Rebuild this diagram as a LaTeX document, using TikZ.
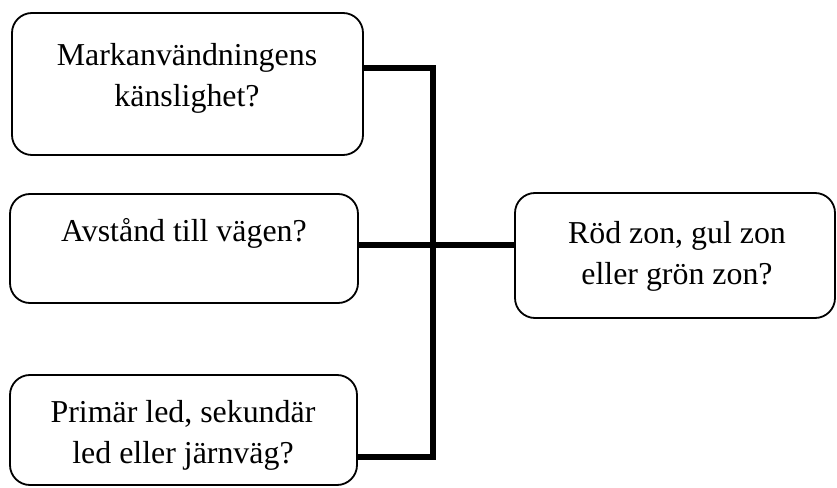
\documentclass[tikz,border=0pt]{standalone}
\usepackage{fontspec}
\setmainfont{Liberation Serif}
\begin{document}
\begin{tikzpicture}[x=1bp,y=-1bp,
  box/.style={draw=black, line width=1.8bp, rounded corners=20bp},
  lbl/.style={align=center, font=\fontsize{32}{41}\selectfont, inner sep=0pt},
  conn/.style={line width=5.5bp, line join=miter}]
\useasboundingbox (0,0) rectangle (837,488);
% boxes
\path[box] (12,13) rectangle (363,155) node[pos=0.5, inner sep=0] (b1) {};
\path[box] (10,194) rectangle (358,303) node[pos=0.5, inner sep=0] (b2) {};
\path[box] (10,375) rectangle (357,485) node[pos=0.5, inner sep=0] (b3) {};
\path[box] (515,193) rectangle (835,318) node[pos=0.5, inner sep=0] (b4) {};
% box edge anchors
\coordinate (b1e) at (363,68);
\coordinate (b2e) at (358,245);
\coordinate (b3e) at (357,457);
\coordinate (b4w) at (515,245);
\coordinate (jt) at (433,68);
\coordinate (jb) at (433,457);
% texts
\node[lbl] (t1) at (187,78) {Markanvändningens\\känslighet?};
\node[lbl] (t2) at (184,233) {Avstånd till vägen?};
\node[lbl] (t3) at (183,435) {Primär led, sekundär\\led eller järnväg?};
\node[lbl] (t4) at (677,256) {Röd zon, gul zon\\eller grön zon?};
% connectors
\draw[conn] (b1e) -- (jt) -- (jb) -- (b3e);
\draw[conn] (b2e) -- (b4w);
\end{tikzpicture}
\end{document}
